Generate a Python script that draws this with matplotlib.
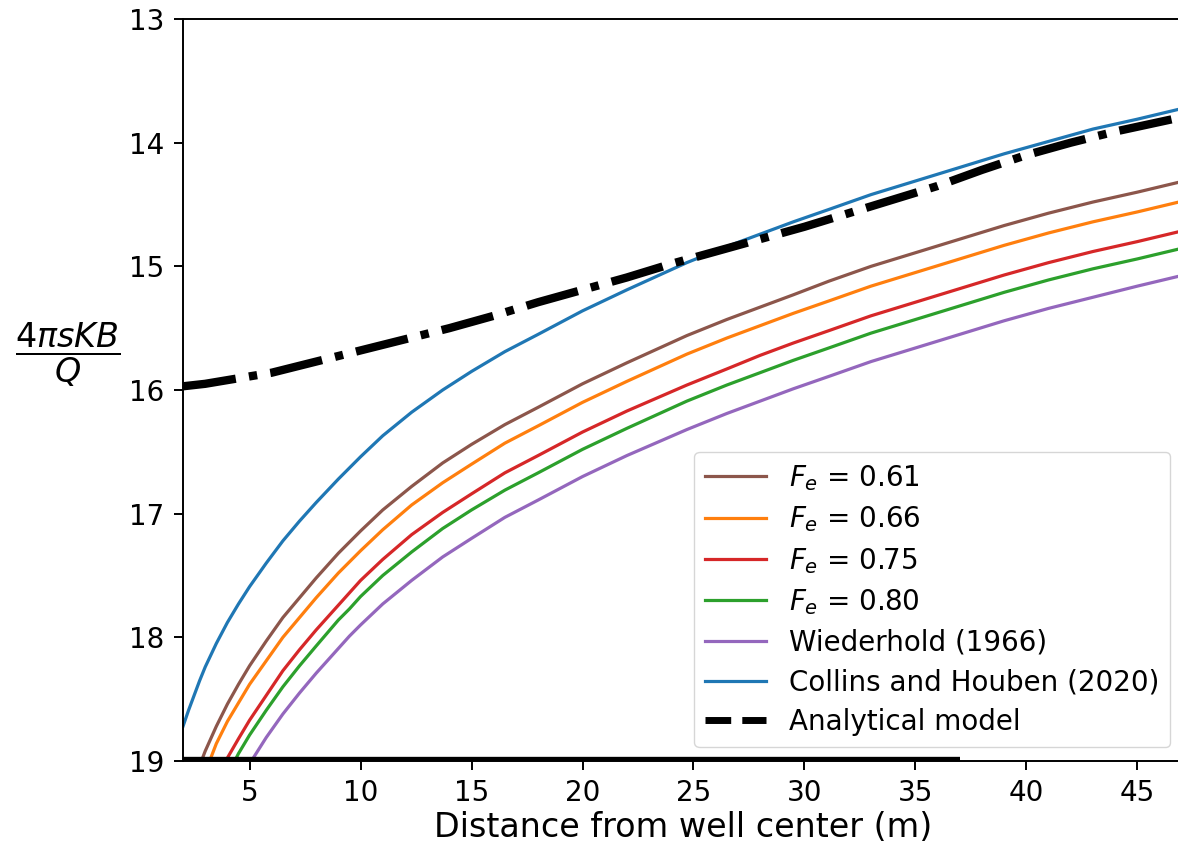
import matplotlib
matplotlib.use("Agg")
import matplotlib.pyplot as plt
from matplotlib.lines import Line2D

# ---------------- data ----------------
x_blue = [2, 2.25, 2.5, 2.75, 3, 3.5, 4, 4.5, 5, 5.75, 6.5, 7.25, 8, 9, 9.5, 10, 11, 12.3, 13.7,
          15, 16.5, 18, 20, 22, 24.7, 26.5, 28, 29.5, 31.1, 33, 35, 37, 39, 41, 43, 45, 47.1]
y_blue = [18.72, 18.59, 18.47, 18.35, 18.24, 18.05, 17.88, 17.73, 17.59, 17.40, 17.22, 17.06,
          16.91, 16.72, 16.63, 16.54, 16.37, 16.18, 16.00, 15.85, 15.69, 15.55, 15.36, 15.19,
          14.97, 14.84, 14.74, 14.64, 14.54, 14.42, 14.31, 14.20, 14.09, 13.99, 13.89, 13.81, 13.72]

x_brown = [2.83, 3, 3.5, 4, 4.5, 5, 5.75, 6.5, 7.25, 8, 9, 9.5, 10, 11, 12.3, 13.7, 15, 16.5, 18,
           20, 22, 24.7, 26.5, 28, 29.5, 31.1, 33, 35, 37, 39, 41, 43, 45, 47.1]
y_brown = [19.0, 18.92, 18.72, 18.54, 18.38, 18.23, 18.03, 17.84, 17.68, 17.52, 17.32, 17.23,
           17.14, 16.97, 16.78, 16.59, 16.44, 16.28, 16.14, 15.95, 15.78, 15.56, 15.43, 15.33,
           15.23, 15.12, 15.00, 14.89, 14.78, 14.67, 14.57, 14.48, 14.40, 14.31]

x_orange = [3.2, 3.5, 4, 4.5, 5, 5.75, 6.5, 7.25, 8, 9, 9.5, 10, 11, 12.3, 13.7, 15, 16.5, 18,
            20, 22, 24.7, 26.5, 28, 29.5, 31.1, 33, 35, 37, 39, 41, 43, 45, 47.1]
y_orange = [19.0, 18.86, 18.68, 18.53, 18.38, 18.19, 18.00, 17.84, 17.68, 17.48, 17.39, 17.30,
            17.13, 16.93, 16.75, 16.60, 16.43, 16.29, 16.10, 15.93, 15.71, 15.58, 15.48, 15.38,
            15.28, 15.16, 15.05, 14.94, 14.83, 14.73, 14.64, 14.56, 14.47]

x_red = [3.92, 4.5, 5, 5.75, 6.5, 7.25, 8, 9, 9.5, 10, 11, 12.3, 13.7, 15, 16.5, 18, 20, 22,
         24.7, 26.5, 28, 29.5, 31.1, 33, 35, 37, 39, 41, 43, 45, 47.1]
y_red = [19.0, 18.82, 18.67, 18.47, 18.27, 18.10, 17.94, 17.74, 17.64, 17.54, 17.37, 17.17,
         16.99, 16.84, 16.67, 16.53, 16.34, 16.17, 15.96, 15.83, 15.72, 15.62, 15.52, 15.40,
         15.29, 15.18, 15.07, 14.97, 14.88, 14.80, 14.71]

x_green = [4.33, 4.5, 5, 5.75, 6.5, 7.25, 8, 9, 9.5, 10, 11, 12.3, 13.7, 15, 16.5, 18, 20, 22,
           24.7, 26.5, 28, 29.5, 31.1, 33, 35, 37, 39, 41, 43, 45, 47.1]
y_green = [19.0, 18.94, 18.79, 18.59, 18.40, 18.23, 18.07, 17.86, 17.77, 17.67, 17.50, 17.31,
           17.12, 16.97, 16.81, 16.67, 16.48, 16.31, 16.09, 15.96, 15.86, 15.76, 15.66, 15.54,
           15.43, 15.32, 15.21, 15.11, 15.02, 14.94, 14.85]

x_purple = [5.08, 5.75, 6.5, 7.25, 8, 9, 9.5, 10, 11, 12.3, 13.7, 15, 16.5, 18, 20, 22, 24.7,
            26.5, 28, 29.5, 31.1, 33, 35, 37, 39, 41, 43, 45, 47.1]
y_purple = [19.0, 18.81, 18.62, 18.45, 18.29, 18.09, 17.99, 17.90, 17.73, 17.54, 17.35, 17.20,
            17.03, 16.89, 16.70, 16.53, 16.32, 16.19, 16.09, 15.99, 15.89, 15.77, 15.66, 15.55,
            15.44, 15.34, 15.25, 15.16, 15.07]

x_analytic = [2, 3, 4, 6, 8, 10, 12, 14, 16, 18, 20, 22, 24, 26, 28, 30, 32, 34, 36, 38, 40,
              42, 44, 47.1]
y_analytic = [15.97, 15.95, 15.92, 15.86, 15.77, 15.68, 15.59, 15.50, 15.40, 15.29, 15.19,
              15.09, 14.98, 14.88, 14.78, 14.68, 14.57, 14.46, 14.35, 14.22, 14.10, 14.00,
              13.91, 13.79]

x_base = [2, 37]
y_base = [19, 19]

labels = [r"$F_e$ = 0.61", r"$F_e$ = 0.66", r"$F_e$ = 0.75", r"$F_e$ = 0.80",
          "Wiederhold (1966)", "Collins and Houben (2020)", "Analytical model"]

x_ticks = [5, 10, 15, 20, 25, 30, 35, 40, 45]
y_ticks = [13, 14, 15, 16, 17, 18, 19]

# ---------------- figure ----------------
W, H = 1178, 850
fig = plt.figure(figsize=(W / 100, H / 100), dpi=100)
ax = fig.add_axes([183 / W, (H - 761) / H, (1184 - 183) / W, (761 - 19) / H])

lw = 2.3
series = [
    (x_brown, y_brown, "#8c564b"),
    (x_orange, y_orange, "#ff7f0e"),
    (x_red, y_red, "#d62728"),
    (x_green, y_green, "#2ca02c"),
    (x_purple, y_purple, "#9467bd"),
    (x_blue, y_blue, "#1f77b4"),
]
handles = []
for (xs, ys, c), lab in zip(series, labels[:6]):
    h, = ax.plot(xs, ys, color=c, lw=lw, label=lab, solid_joinstyle="round")
    handles.append(h)

ax.plot(x_analytic, y_analytic, color="black", lw=6, linestyle="-.")
ax.plot(x_base, y_base, color="black", lw=6, solid_capstyle="butt")

handles.append(Line2D([], [], color="black", lw=5, linestyle="--"))

ax.set_xlim(2, 47.1)
ax.set_ylim(19, 13)
ax.set_xticks(x_ticks)
ax.set_yticks(y_ticks)
ax.tick_params(labelsize=20, length=6.3, width=1.4, pad=7)
for sp in ax.spines.values():
    sp.set_linewidth(1.4)

ax.set_xlabel("Distance from well center (m)", fontsize=24)
ax.xaxis.set_label_coords(0.5, -0.067)
ax.set_ylabel(r"$\dfrac{4\pi sKB}{Q}$", fontsize=24, rotation=0, ha="center", va="center")
ax.yaxis.set_label_coords((68 - 183) / 1001, (761 - 355) / 742)

ax.legend(handles, labels, loc="lower right", fontsize=20, handlelength=2.2,
          labelspacing=0.42)

fig.savefig("out.png", dpi=100)
